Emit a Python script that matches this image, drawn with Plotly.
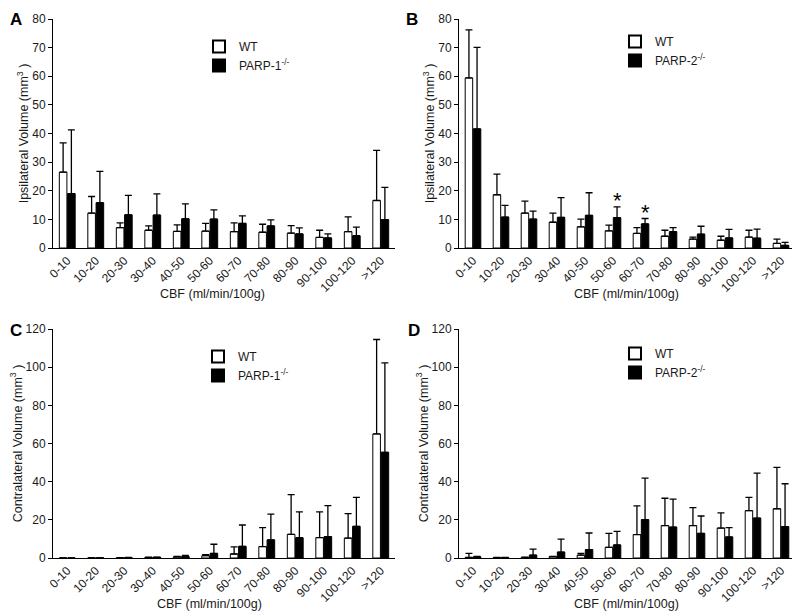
import plotly.graph_objects as go
from plotly.subplots import make_subplots

categories = ['0-10', '10-20', '20-30', '30-40', '40-50', '50-60', '60-70',
              '70-80', '80-90', '90-100', '100-120', '>120']

# Panel A: ipsilateral, WT vs PARP-1-/-
a_wt = [26.5, 12.2, 7.1, 6.2, 5.8, 5.9, 5.7, 5.5, 5.2, 3.7, 5.7, 16.6]
a_wt_sd = [10.2, 5.8, 1.7, 1.5, 2.3, 2.7, 3.1, 2.8, 2.6, 2.5, 5.2, 17.5]
a_ko = [19.0, 15.8, 11.6, 11.5, 10.2, 10.1, 8.6, 7.7, 4.9, 3.5, 4.3, 9.9]
a_ko_sd = [22.3, 11.0, 6.8, 7.4, 5.2, 3.2, 2.6, 2.1, 2.1, 1.4, 3.0, 11.3]

# Panel B: ipsilateral, WT vs PARP-2-/-
b_wt = [59.4, 18.6, 12.2, 9.0, 7.4, 6.0, 5.1, 4.1, 3.1, 2.7, 3.8, 1.6]
b_wt_sd = [16.8, 7.2, 4.2, 3.2, 2.7, 2.0, 2.0, 2.1, 0.7, 1.4, 2.4, 1.5]
b_ko = [41.6, 10.8, 10.1, 10.7, 11.4, 10.6, 8.4, 5.7, 4.8, 3.5, 3.4, 0.9]
b_ko_sd = [28.5, 4.1, 2.8, 6.9, 7.9, 3.8, 1.9, 1.4, 2.8, 3.0, 3.2, 1.1]
b_star_categories = ['50-60', '60-70']

# Panel C: contralateral, WT vs PARP-1-/-
c_wt = [0.0, 0.1, 0.1, 0.3, 0.6, 1.2, 2.1, 6.0, 12.4, 10.7, 10.4, 65.0]
c_wt_sd = [0.0, 0.0, 0.1, 0.1, 0.3, 0.6, 3.7, 9.9, 20.8, 13.5, 12.9, 49.5]
c_ko = [0.0, 0.1, 0.2, 0.4, 0.8, 2.4, 6.1, 9.5, 10.6, 11.2, 16.6, 55.4]
c_ko_sd = [0.0, 0.0, 0.1, 0.1, 0.5, 4.8, 11.2, 13.5, 13.6, 16.2, 15.2, 46.8]

# Panel D: contralateral, WT vs PARP-2-/-
d_wt = [0.3, 0.2, 0.3, 0.7, 1.5, 5.6, 12.3, 17.0, 17.0, 15.7, 24.8, 25.8]
d_wt_sd = [2.1, 0.1, 0.1, 0.2, 0.9, 7.3, 15.0, 14.3, 9.4, 7.9, 7.0, 21.7]
d_ko = [0.6, 0.2, 1.5, 3.1, 4.4, 6.8, 20.1, 16.2, 12.9, 11.0, 20.9, 16.4]
d_ko_sd = [0.2, 0.1, 3.2, 6.8, 8.7, 7.2, 21.8, 14.7, 9.1, 4.9, 23.6, 22.5]

FONT = "Liberation Sans, Arial, sans-serif"
TXT = "#1a1a1a"

# the page body has an 8px margin; the figure is sized to fill the rest of the window
W, H, OFF = 792, 608, 8


def PX(px):
    return (px - OFF) / W


def PY(py):
    return 1 - (py - OFF) / H


fig = make_subplots(rows=2, cols=2)

panels = [
    (1, 1, a_wt, a_wt_sd, a_ko, a_ko_sd, 'PARP-1<sup>-/-</sup>', 'legend'),
    (1, 2, b_wt, b_wt_sd, b_ko, b_ko_sd, 'PARP-2<sup>-/-</sup>', 'legend2'),
    (2, 1, c_wt, c_wt_sd, c_ko, c_ko_sd, 'PARP-1<sup>-/-</sup>', 'legend3'),
    (2, 2, d_wt, d_wt_sd, d_ko, d_ko_sd, 'PARP-2<sup>-/-</sup>', 'legend4'),
]

for r, c, wt, wsd, ko, ksd, koname, leg in panels:
    fig.add_trace(go.Bar(
        x=categories, y=wt, name='WT', legend=leg,
        marker=dict(color='white', line=dict(color='black', width=1)),
        error_y=dict(type='data', array=wsd, arrayminus=[0] * len(wsd), symmetric=False,
                     color='black', thickness=1.3, width=3.5),
    ), row=r, col=c)
    fig.add_trace(go.Bar(
        x=categories, y=ko, name=koname, legend=leg,
        marker=dict(color='black', line=dict(color='black', width=1)),
        error_y=dict(type='data', array=ksd, arrayminus=[0] * len(ksd), symmetric=False,
                     color='black', thickness=1.3, width=3.5),
    ), row=r, col=c)

xdom_left = [PX(53), PX(395)]
xdom_right = [PX(459), PX(795)]
ydom_top = [PY(248), PY(19)]
ydom_bot = [PY(558), PY(329)]

axis_common = dict(showline=True, linecolor='black', linewidth=1, mirror=False,
                   showgrid=False, zeroline=False, automargin=False,
                   tickfont=dict(family=FONT, size=12, color=TXT))

doms = {1: (xdom_left, ydom_top), 2: (xdom_right, ydom_top),
        3: (xdom_left, ydom_bot), 4: (xdom_right, ydom_bot)}
for i in range(1, 5):
    xd, yd = doms[i]
    xa = 'xaxis' if i == 1 else f'xaxis{i}'
    ya = 'yaxis' if i == 1 else f'yaxis{i}'
    top = i <= 2
    fig.layout[xa].update(domain=xd, tickangle=-45, ticks='', range=[-0.5, 11.5],
                          **axis_common)
    fig.layout[ya].update(domain=yd, ticks='outside', ticklen=4, tickcolor='black',
                          range=[0, 80] if top else [0, 120],
                          dtick=10 if top else 20,
                          title=dict(text=('Ipsilateral Volume (mm<sup>3</sup> )' if top
                                           else 'Contralateral Volume (mm<sup>3</sup> )'),
                                     standoff=0,
                                     font=dict(family=FONT, size=12.5, color=TXT)),
                          **axis_common)

# x-axis titles placed under the rotated tick labels
for xc, yc in [(213, 294), (626, 294), (210, 604), (626, 604)]:
    fig.add_annotation(x=PX(xc), y=PY(yc), xref='paper', yref='paper',
                       xanchor='center', yanchor='middle', text='CBF (ml/min/100g)',
                       showarrow=False, font=dict(family=FONT, size=12.5, color=TXT))

# significance stars on PARP-2-/- bars in panel B
for cat in b_star_categories:
    idx = categories.index(cat)
    fig.add_annotation(x=cat, y=b_ko[idx] + b_ko_sd[idx], xref='x2', yref='y2',
                       text='*', showarrow=False, xshift=4, yshift=6,
                       font=dict(family=FONT, size=22, color='black'))

# panel letters
for letter, x, y in [('A', 8, 8), ('B', 404, 8), ('C', 8, 319), ('D', 406, 319)]:
    fig.add_annotation(x=PX(x), y=PY(y), xref='paper', yref='paper',
                       xanchor='left', yanchor='top', text=f'<b>{letter}</b>',
                       showarrow=False, font=dict(family=FONT, size=17, color='black'))

leg_common = dict(xanchor='left', yanchor='top', bgcolor='rgba(0,0,0,0)',
                  font=dict(family=FONT, size=12, color=TXT), traceorder='normal',
                  tracegroupgap=0, itemsizing='constant')
fig.update_layout(
    legend=dict(x=PX(199), y=PY(32), **leg_common),
    legend2=dict(x=PX(615), y=PY(27), **leg_common),
    legend3=dict(x=PX(198), y=PY(342), **leg_common),
    legend4=dict(x=PX(615), y=PY(339), **leg_common),
)

fig.update_layout(
    width=W, height=H,
    margin=dict(l=0, r=0, t=0, b=0, pad=0, autoexpand=False),
    paper_bgcolor='white', plot_bgcolor='white',
    barmode='group', bargap=0.42, bargroupgap=0.08,
    font=dict(family=FONT, size=12, color=TXT),
    showlegend=True,
)

fig.write_html('out.html')
